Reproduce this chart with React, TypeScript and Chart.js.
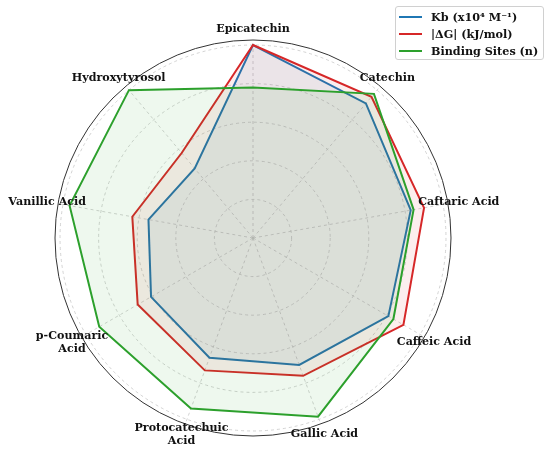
import React, { useEffect, useRef } from 'react';
import { Chart, registerables } from 'chart.js';

Chart.register(...registerables);

const categories: (string | string[])[] = [
  'Epicatechin',
  'Catechin',
  'Caftaric Acid',
  'Caffeic Acid',
  'Gallic Acid',
  ['Protocatechuic', 'Acid'],
  ['p-Coumaric', 'Acid'],
  'Vanillic Acid',
  'Hydroxytyrosol',
];
const kbValues = [1.0, 0.91, 0.83, 0.81, 0.7, 0.66, 0.61, 0.55, 0.47];
const dgValues = [1.0, 0.955, 0.9, 0.9, 0.76, 0.73, 0.69, 0.635, 0.575];
const siteValues = [0.78, 0.975, 0.845, 0.84, 0.985, 0.94, 0.92, 0.965, 1.0];
const gridTicks = [0, 0.2, 0.4, 0.6, 0.8, 1.0];
const SCALE_MAX = 1.026;
const LABEL_VALUE = 1.083;
const seriesNames = ['Kb (x10\u2074 M\u207B\u00B9)', '|\u0394G| (kJ/mol)', 'Binding Sites (n)'];
const seriesColors = ['#1f77b4', '#d62728', '#2ca02c'];
const seriesFills = ['rgba(31,119,180,0.08)', 'rgba(214,39,40,0.08)', 'rgba(44,160,44,0.08)'];

const FONT = '"DejaVu Serif", serif';

const labelPlugin = {
  id: 'centeredAxisLabels',
  afterDatasetsDraw(chart: any) {
    const scale = chart.scales.r;
    const ctx = chart.ctx;
    ctx.save();
    ctx.font = `bold 11.1px ${FONT}`;
    ctx.fillStyle = '#111';
    ctx.textAlign = 'center';
    ctx.textBaseline = 'middle';
    const lh = 12.8;
    categories.forEach((lab, i) => {
      const p = scale.getPointPositionForValue(i, LABEL_VALUE);
      const lines = Array.isArray(lab) ? lab : [lab];
      lines.forEach((t, j) => {
        ctx.fillText(t, p.x, p.y + (j - (lines.length - 1) / 2) * lh);
      });
    });
    ctx.restore();
  },
};

export default function App() {
  const ref = useRef<HTMLCanvasElement | null>(null);
  useEffect(() => {
    if (!ref.current) return;
    const values = [kbValues, dgValues, siteValues];
    const last = gridTicks.length;
    const chart = new Chart(ref.current, {
      type: 'radar',
      data: {
        labels: categories as any,
        datasets: values.map((v, i) => ({
          label: seriesNames[i],
          data: v,
          borderColor: seriesColors[i],
          backgroundColor: seriesFills[i],
          borderWidth: 2,
          fill: 'origin',
          pointRadius: 0,
          order: 3 - i,
        })),
      },
      options: {
        responsive: false,
        animation: false,
        layout: { padding: { left: 55, right: 99, top: 40, bottom: 23 } },
        plugins: { legend: { display: false }, tooltip: { enabled: false } },
        elements: { line: { tension: 0 } },
        scales: {
          r: {
            min: 0,
            max: SCALE_MAX,
            afterBuildTicks: (s: any) => {
              s.ticks = [...gridTicks, SCALE_MAX].map((v) => ({ value: v }));
            },
            ticks: { display: false },
            pointLabels: { display: false },
            grid: {
              circular: true,
              color: (c: any) => (c.index === last ? '#333333' : '#c8c8c8'),
              lineWidth: (c: any) => (c.index === last ? 1 : 0.8),
            },
            border: { dash: (c: any) => (c.index === last ? [] : [3, 3]) } as any,
            angleLines: { color: '#c8c8c8', lineWidth: 0.8, borderDash: [3, 3] },
          },
        },
      },
      plugins: [labelPlugin],
    });
    return () => chart.destroy();
  }, []);

  return (
    <div style={{ position: 'absolute', left: 0, top: 0, width: 550, height: 459, background: '#fff' }}>
      <canvas ref={ref} width={550} height={459} style={{ display: 'block' }} />
      <div
        style={{
          position: 'absolute',
          left: 395,
          top: 6,
          width: 149,
          height: 54,
          boxSizing: 'border-box',
          border: '1px solid #d0d0d0',
          borderRadius: 3,
          background: 'rgba(255,255,255,0.8)',
          fontFamily: FONT,
          fontWeight: 'bold',
          fontSize: 11.2,
          color: '#111',
        }}
      >
        {seriesNames.map((n, i) => (
          <div key={n} style={{ position: 'absolute', left: 3, top: 3 + i * 16.8, height: 14, display: 'flex', alignItems: 'center', whiteSpace: 'nowrap' }}>
            <span style={{ display: 'inline-block', width: 23, height: 2, background: seriesColors[i], marginRight: 9 }} />
            <span>{n}</span>
          </div>
        ))}
      </div>
    </div>
  );
}
